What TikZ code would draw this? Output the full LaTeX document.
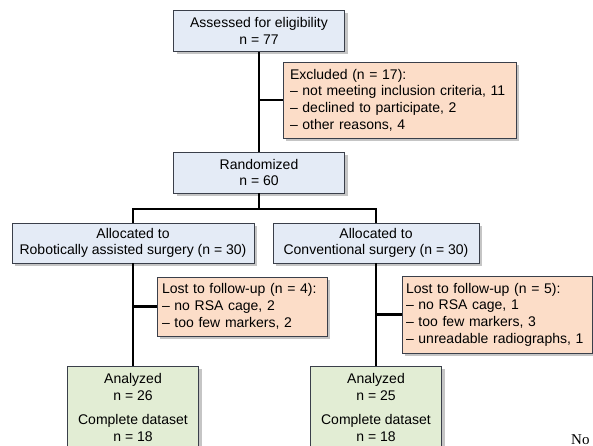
\documentclass[tikz,border=0pt]{standalone}
\usepackage{fontspec}
\setmainfont{Liberation Sans}
\newfontfamily\pagefont{Liberation Serif}
\usetikzlibrary{shadows}
\definecolor{FlowBlue}{HTML}{E4EBF6}
\definecolor{FlowPeach}{HTML}{FCDDC8}
\definecolor{FlowGreen}{HTML}{E2EDD4}
\definecolor{FlowEdge}{HTML}{3A3F4A}

\begin{document}
\begin{tikzpicture}[x=1pt,y=-1pt]
  \tikzstyle{box}=[draw=FlowEdge,line width=0.8pt,inner sep=0pt,align=center,
    font=\fontsize{14}{16.7}\selectfont,
    drop shadow={shadow xshift=3pt,shadow yshift=-3pt,fill=black!45,opacity=0.5}]
  \tikzstyle{stage}=[box,fill=FlowBlue,minimum height=41pt]
  \tikzstyle{drop}=[box,fill=FlowPeach,align=left,inner xsep=6pt]
  \tikzstyle{kept}=[box,fill=FlowGreen,minimum width=131pt,inner ysep=7pt,anchor=north]
  \tikzstyle{link}=[line width=2.5pt]
  \useasboundingbox (0,0) rectangle (593,446);
  \clip (0,0) rectangle (593,446);
  % screening
  \node[stage,minimum width=171pt] (assess) at (259,31) {Assessed for eligibility\\n = 77};
  \node[drop,text width=219pt,inner xsep=7pt,minimum height=76pt] (excl) at (399.5,100)
    {Excluded (n = 17):\\– not meeting inclusion criteria, 11\\– declined to participate, 2\\– other reasons, 4};
  \node[stage,minimum width=171pt] (rand) at (259,172.5) {Randomized\\n = 60};
  % allocation
  \node[stage,minimum width=242pt,minimum height=40pt] (allocL) at (133,243)
    {Allocated to\\Robotically assisted surgery (n = 30)};
  \node[stage,minimum width=206pt,minimum height=40pt] (allocR) at (376,243)
    {Allocated to\\Conventional surgery (n = 30)};
  \node[drop,text width=160pt,inner xsep=5pt,minimum height=59pt] (lostL) at (242,306.5)
    {Lost to follow-up (n = 4):\\– no RSA cage, 2\\– too few markers, 2};
  \node[drop,text width=182pt,inner xsep=4pt,minimum height=77pt] (lostR) at (497,314.5)
    {Lost to follow-up (n = 5):\\– no RSA cage, 1\\– too few markers, 3\\– unreadable radiographs, 1};
  % analysis
  \node[kept] (analL) at (133,366) {Analyzed\\n = 26\\[8pt]Complete dataset\\n = 18};
  \node[kept] (analR) at (376,366) {Analyzed\\n = 25\\[8pt]Complete dataset\\n = 18};
  \node[font=\pagefont\fontsize{15}{18}\selectfont,anchor=base west,inner sep=0pt] (pagetxt) at (571,444) {No};
  % connectors
  \coordinate (split) at (259,209);
  \draw[link] (assess) -- (rand);
  \draw[link] (excl.west) -- (excl.west -| assess.south);
  \draw[link] (rand) -- (split);
  \draw[link] (allocL.north) |- (split) -| (allocR.north);
  \draw[link] (allocL) -- (analL);
  \draw[link] (allocR) -- (analR);
  \draw[link] (lostL.west) -- (lostL.west -| allocL.south);
  \draw[link] (lostR.west) -- (lostR.west -| allocR.south);
\end{tikzpicture}
\end{document}
